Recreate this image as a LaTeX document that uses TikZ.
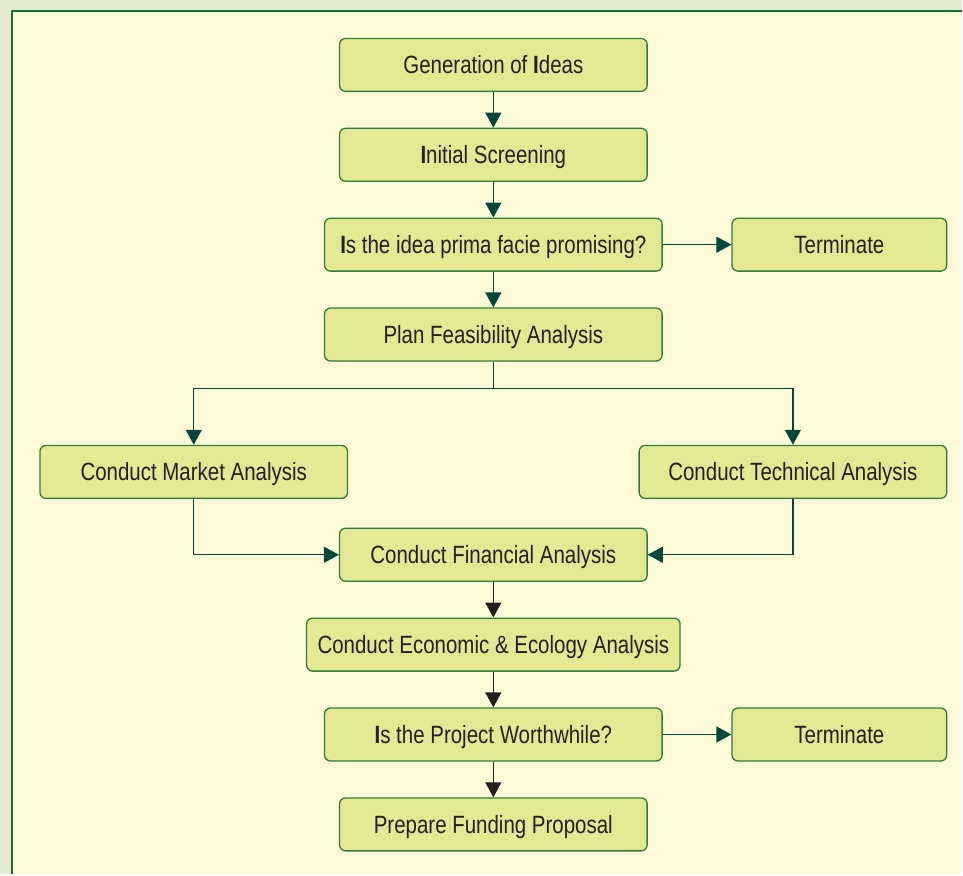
\documentclass[tikz,border=0pt]{standalone}
\usepackage{fontspec}
\setmainfont[FakeStretch=0.82]{Liberation Sans}
\usetikzlibrary{arrows.meta}
\definecolor{pagebg}{HTML}{E2EBCF}
\definecolor{panelbg}{HTML}{FEFAD8}
\definecolor{framegreen}{HTML}{1A6E3A}
\definecolor{boxfill}{HTML}{E4E893}
\definecolor{boxline}{HTML}{2E7D3A}
\definecolor{flowteal}{HTML}{00473C}
\definecolor{flowdark}{HTML}{231F20}
\definecolor{textdark}{HTML}{231F20}
% heavy capital I as printed in the labels
\newcommand{\heavyI}{\textbf{I}}
\tikzset{
  x=1pt, y=-1pt,
  stepbox/.style={draw=boxline, line width=1.3pt, fill=boxfill, rounded corners=6pt,
    minimum height=53pt, inner sep=0pt, text height=18pt, text depth=0pt,
    text=textdark, font=\fontsize{25}{28}\selectfont},
  flow/.style={draw=flowteal, line width=1.3pt, -{Triangle[length=15pt,width=16pt]}},
  flowk/.style={draw=flowdark, line width=1.3pt, -{Triangle[length=15pt,width=16pt]}},
  joint/.style={draw=flowteal, line width=1.3pt}
}
\begin{document}
\begin{tikzpicture}
  % page and panel
  \fill[pagebg] (0,0) rectangle (963,875);
  \fill[panelbg] (12,11) rectangle (963,875);
  \draw[framegreen, line width=2.6pt] (12,875) -- (12,11) -- (963,11);

  % boxes
  \node[stepbox, minimum width=308pt] (ideas)  at (494,65)    {Generation of \heavyI deas};
  \node[stepbox, minimum width=308pt] (screen) at (494,155)   {\heavyI nitial Screening};
  \node[stepbox, minimum width=338pt] (prima)  at (494,245)   {\heavyI s the idea prima facie promising?};
  \node[stepbox, minimum width=215pt] (term1)  at (840.5,245) {Terminate};
  \node[stepbox, minimum width=338pt] (plan)   at (494,335)   {Plan Feasibility Analysis};
  \node[stepbox, minimum width=308pt] (market) at (194,472.5) {Conduct Market Analysis};
  \node[stepbox, minimum width=308pt] (tech)   at (794,472.5) {Conduct Technical Analysis};
  \node[stepbox, minimum width=308pt] (fin)    at (494,555.5) {Conduct Financial Analysis};
  \node[stepbox, minimum width=374pt] (eco)    at (494,645.5) {Conduct Economic \& Ecology Analysis};
  \node[stepbox, minimum width=338pt] (worth)  at (494,735.5) {\heavyI s the Project Worthwhile?};
  \node[stepbox, minimum width=215pt] (term2)  at (840.5,735.5) {Terminate};
  \node[stepbox, minimum width=308pt] (fund)   at (494,825.5) {Prepare Funding Proposal};

  % main flow
  \draw[flow] (ideas) -- (screen);
  \draw[flow] (screen) -- (prima);
  \draw[flow] (prima) -- (term1);
  \draw[flow] (prima) -- (plan);

  % split into market and technical analysis
  \coordinate (split) at (494,389);
  \draw[joint] (plan.south) -- (split);
  \draw[flow] (split) -| (market.north);
  \draw[flow] (split) -| (tech.north);

  % merge into financial analysis
  \draw[flow] (market.south) |- (fin.west);
  \draw[flow] (tech.south) |- (fin.east);

  % final stages
  \draw[flowk] (fin) -- (eco);
  \draw[flowk] (eco) -- (worth);
  \draw[flow] (worth) -- (term2);
  \draw[flowk] (worth) -- (fund);
\end{tikzpicture}
\end{document}
